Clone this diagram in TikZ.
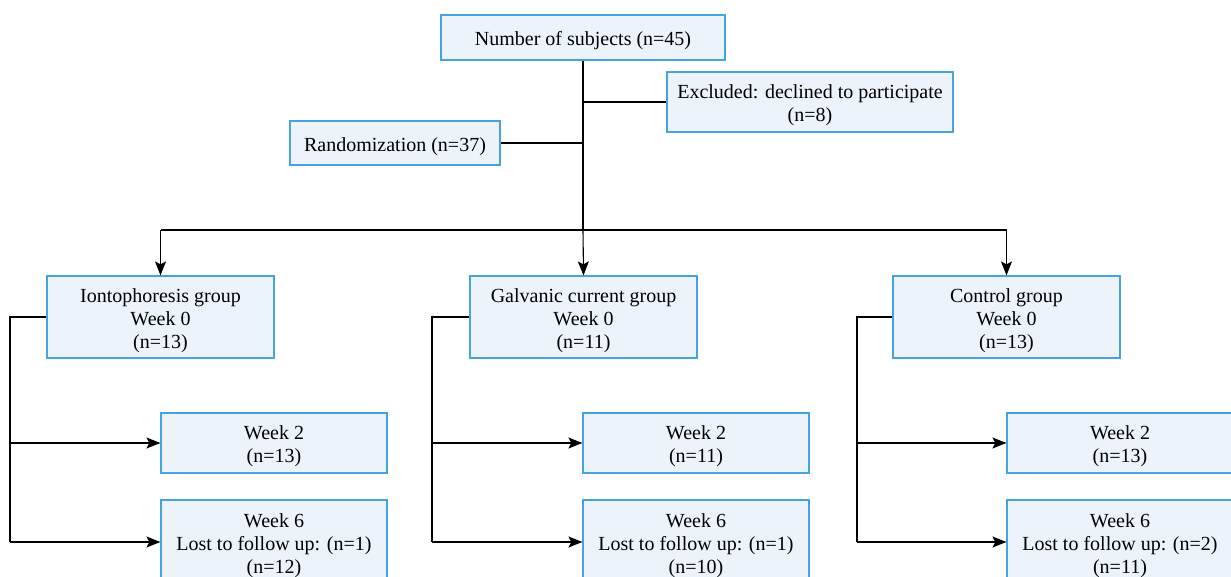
\documentclass[tikz,border=0pt]{standalone}
\usepackage{fontspec}
\setmainfont{Liberation Serif}
\usetikzlibrary{arrows.meta}
\definecolor{boxfill}{HTML}{EDF3FB}
\definecolor{boxline}{HTML}{45A3DE}
\newcommand\firststrut{\rule{0pt}{21pt}}
\tikzset{
  box/.style={draw=boxline, fill=boxfill, line width=1.2pt, align=center, inner sep=0pt,
    font=\fontsize{20}{23}\selectfont},
  conn/.style={draw=black, line width=1.1pt},
  arr/.style={conn, -{Stealth[length=14pt,width=11pt,inset=3pt]}}
}
\begin{document}
\begin{tikzpicture}[x=1pt,y=-1pt]
\useasboundingbox (0,0) rectangle (1231,577);
\fill[white] (0,0) rectangle (1231,577);
\begin{scope}
\clip (0,0) rectangle (1231,577);
\node[box, minimum width=284pt, minimum height=45pt] (top) at (583,37.5) {\firststrut Number of subjects (n=45)};
\node[box, minimum width=286pt, minimum height=60pt] (exc) at (810,102) {\firststrut Excluded: declined to participate\\(n=8)};
\node[box, minimum width=210pt, minimum height=44pt] (rand) at (395,143) {\firststrut Randomization (n=37)};
\coordinate (j) at (583,230);

\node[box, minimum width=227pt, minimum height=82pt] (g1) at (160.5,317) {\firststrut Iontophoresis group\\Week 0\\(n=13)};
\node[box, minimum width=227pt, minimum height=82pt] (g2) at (583.5,317) {\firststrut Galvanic current group\\Week 0\\(n=11)};
\node[box, minimum width=227pt, minimum height=82pt] (g3) at (1006.5,317) {\firststrut Control group\\Week 0\\(n=13)};

\node[box, minimum width=226pt, minimum height=60pt] (a2) at (274,443) {\firststrut Week 2\\(n=13)};
\node[box, minimum width=226pt, minimum height=60pt] (b2) at (696,443) {\firststrut Week 2\\(n=11)};
\node[box, minimum width=226pt, minimum height=60pt] (c2) at (1120,443) {\firststrut Week 2\\(n=13)};

\node[box, minimum width=226pt, minimum height=84pt] (a6) at (274,542) {\firststrut Week 6\\Lost to follow up: (n=1)\\(n=12)};
\node[box, minimum width=226pt, minimum height=84pt] (b6) at (696,542) {\firststrut Week 6\\Lost to follow up: (n=1)\\(n=10)};
\node[box, minimum width=226pt, minimum height=84pt] (c6) at (1120,542) {\firststrut Week 6\\Lost to follow up: (n=2)\\(n=11)};

\draw[conn] (top.south) -- (j);
\draw[conn] (top.south |- exc.west) -- (exc.west);
\draw[conn] (rand.east) -- (rand.east -| top.south);
\draw[conn] (j) -- (j -| g1.north) ;
\draw[conn] (j) -- (j -| g3.north);
\draw[arr] (j -| g1.north) -- (g1.north);
\draw[arr] (j) -- (g2.north);
\draw[arr] (j -| g3.north) -- (g3.north);

\coordinate (l1) at (10,317);
\coordinate (l2) at (432,317);
\coordinate (l3) at (857,317);
\draw[conn] (g1.west) -- (l1) -- (l1 |- a6.west);
\draw[arr] (l1 |- a2.west) -- (a2.west);
\draw[arr] (l1 |- a6.west) -- (a6.west);
\draw[conn] (g2.west) -- (l2) -- (l2 |- b6.west);
\draw[arr] (l2 |- b2.west) -- (b2.west);
\draw[arr] (l2 |- b6.west) -- (b6.west);
\draw[conn] (g3.west) -- (l3) -- (l3 |- c6.west);
\draw[arr] (l3 |- c2.west) -- (c2.west);
\draw[arr] (l3 |- c6.west) -- (c6.west);
\end{scope}
\end{tikzpicture}
\end{document}
